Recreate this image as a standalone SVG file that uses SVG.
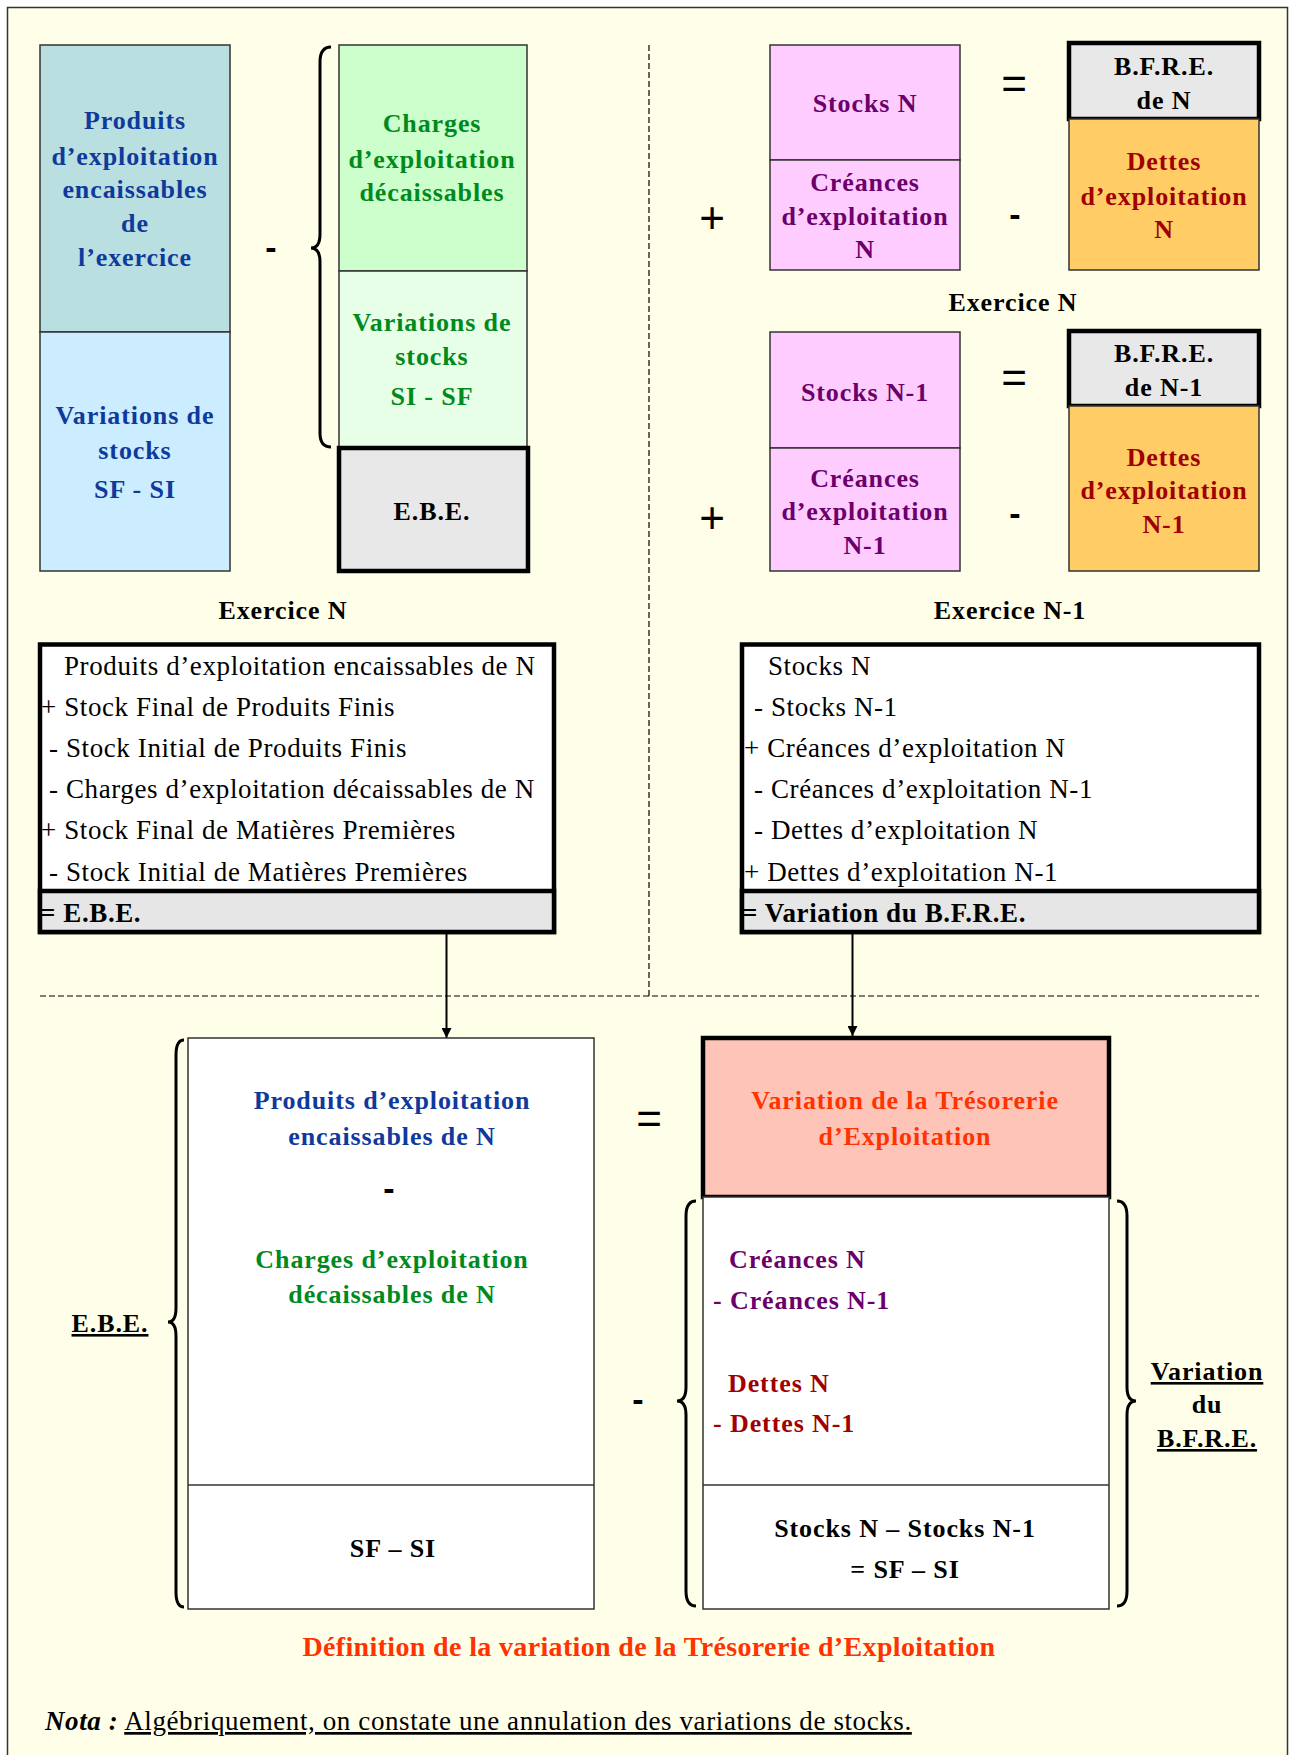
<svg xmlns="http://www.w3.org/2000/svg" width="1289" height="1755" viewBox="0 0 1289 1755">
<defs>
<marker id="arr" viewBox="0 0 10 10" refX="10" refY="5" markerWidth="5" markerHeight="5" orient="auto" markerUnits="strokeWidth"><path d="M0,0 L10,5 L0,10 z" fill="#000"/></marker>
<style>
.b{font-family:"Liberation Serif","Times New Roman",serif;font-weight:bold;font-size:26px;letter-spacing:0.9px;text-anchor:middle}
.r{font-family:"Liberation Serif","Times New Roman",serif;font-size:27px;letter-spacing:0.6px}
.rb{font-family:"Liberation Serif","Times New Roman",serif;font-size:27px;font-weight:bold;letter-spacing:0.6px}
.op{font-family:"Liberation Sans",Arial,sans-serif;font-size:44px;text-anchor:middle}
.mi{font-family:"Liberation Sans",Arial,sans-serif;font-size:34px;font-weight:bold;text-anchor:middle}
.thin{stroke:#333;stroke-width:1.5}
.thick{stroke:#000;stroke-width:4.5}
.brace{fill:none;stroke:#000;stroke-width:3}
.blue{fill:#0F3A9C}.green{fill:#008A1E}.purple{fill:#6B006B}.dred{fill:#A00000}.red{fill:#FF3300}.blk{fill:#000}
.dash{stroke:#000;stroke-width:1.2;stroke-dasharray:6 3;fill:none}
</style>
</defs>
<rect width="1289" height="1755" fill="#fff"/>
<rect x="7.5" y="7.5" width="1280" height="1770" fill="#FFFFE9" stroke="#333" stroke-width="1.5"/>

<g id="separators">
<path class="dash" d="M649,45 V996 M40,996 H1259"/>
</g>

<g id="produits">
<rect x="40" y="45" width="190" height="287" fill="#BADFE1" class="thin"/>
<rect x="40" y="332" width="190" height="239" fill="#CCECFF" class="thin"/>
<text class="b blue" x="135"><tspan x="135" y="129">Produits</tspan><tspan x="135" y="165">d’exploitation</tspan><tspan x="135" y="198">encaissables</tspan><tspan x="135" y="232">de</tspan><tspan x="135" y="266">l’exercice</tspan></text>
<text class="b blue"><tspan x="135" y="424">Variations de</tspan><tspan x="135" y="459">stocks</tspan><tspan x="135" y="498">SF - SI</tspan></text>
</g>

<text class="mi" x="271" y="259">-</text>
<path class="brace" d="M331,47 Q320,47 320,62 L320,234 Q320,248 311,248 Q320,248 320,262 L320,433 Q320,447 331,447"/>

<g id="charges">
<rect x="339" y="45" width="188" height="226" fill="#CCFFCC" class="thin"/>
<rect x="339" y="271" width="188" height="177" fill="#E6FFE6" class="thin"/>
<text class="b green"><tspan x="432" y="132">Charges</tspan><tspan x="432" y="168">d’exploitation</tspan><tspan x="432" y="201">décaissables</tspan></text>
<text class="b green"><tspan x="432" y="331">Variations de</tspan><tspan x="432" y="365">stocks</tspan><tspan x="432" y="405">SI - SF</tspan></text>
</g>
<g id="ebe">
<rect x="339" y="448" width="189" height="123" fill="#E8E8E8" class="thick"/>
<text class="b blk" x="432" y="520">E.B.E.</text>
</g>
<text class="b blk" x="283" y="619">Exercice N</text>

<g id="actif-n">
<rect x="770" y="45" width="190" height="115" fill="#FFCCFF" class="thin"/>
<rect x="770" y="160" width="190" height="110" fill="#FFCCFF" class="thin"/>
<text class="b purple" x="865" y="112">Stocks N</text>
<text class="b purple"><tspan x="865" y="191">Créances</tspan><tspan x="865" y="225">d’exploitation</tspan><tspan x="865" y="258">N</tspan></text>
</g>
<g id="bfre-n">
<rect x="1069" y="43" width="190" height="76" fill="#E8E8E8" class="thick"/>
<text class="b blk"><tspan x="1164" y="75">B.F.R.E.</tspan><tspan x="1164" y="109">de N</tspan></text>
<rect x="1069" y="119" width="190" height="151" fill="#FFCC66" class="thin"/>
<text class="b dred"><tspan x="1164" y="170">Dettes</tspan><tspan x="1164" y="205">d’exploitation</tspan><tspan x="1164" y="238">N</tspan></text>
</g>
<text class="op" x="1014" y="99">=</text>
<text class="op" x="712" y="233">+</text>
<text class="mi" x="1015" y="226">-</text>
<text class="b blk" x="1013" y="311">Exercice N</text>

<g id="actif-n1">
<rect x="770" y="332" width="190" height="116" fill="#FFCCFF" class="thin"/>
<rect x="770" y="448" width="190" height="123" fill="#FFCCFF" class="thin"/>
<text class="b purple" x="865" y="401">Stocks N-1</text>
<text class="b purple"><tspan x="865" y="487">Créances</tspan><tspan x="865" y="520">d’exploitation</tspan><tspan x="865" y="554">N-1</tspan></text>
</g>
<g id="bfre-n1">
<rect x="1069" y="331" width="190" height="75" fill="#E8E8E8" class="thick"/>
<text class="b blk"><tspan x="1164" y="362">B.F.R.E.</tspan><tspan x="1164" y="396">de N-1</tspan></text>
<rect x="1069" y="406" width="190" height="165" fill="#FFCC66" class="thin"/>
<text class="b dred"><tspan x="1164" y="466">Dettes</tspan><tspan x="1164" y="499">d’exploitation</tspan><tspan x="1164" y="533">N-1</tspan></text>
</g>
<text class="op" x="1014" y="393">=</text>
<text class="op" x="712" y="533">+</text>
<text class="mi" x="1015" y="525">-</text>
<text class="b blk" x="1010" y="619">Exercice N-1</text>

<g id="calcul-ebe">
<rect x="40" y="644.5" width="514" height="287.5" fill="#fff" class="thick"/>
<rect x="40" y="891" width="514" height="41" fill="#E6E6E6" class="thick"/>
<text class="r blk" x="64" y="675">Produits d’exploitation encaissables de N</text>
<text class="r blk" x="41" y="716">+ Stock Final de Produits Finis</text>
<text class="r blk" x="49" y="757">- Stock Initial de Produits Finis</text>
<text class="r blk" x="49" y="798">- Charges d’exploitation décaissables de N</text>
<text class="r blk" x="41" y="839">+ Stock Final de Matières Premières</text>
<text class="r blk" x="49" y="881">- Stock Initial de Matières Premières</text>
<text class="rb blk" x="40" y="922">= E.B.E.</text>
</g>

<g id="calcul-bfre">
<rect x="742" y="644.5" width="517" height="287.5" fill="#fff" class="thick"/>
<rect x="742" y="891" width="517" height="41" fill="#E6E6E6" class="thick"/>
<text class="r blk" x="768" y="675">Stocks N</text>
<text class="r blk" x="754" y="716">- Stocks N-1</text>
<text class="r blk" x="744" y="757">+ Créances d’exploitation N</text>
<text class="r blk" x="754" y="798">- Créances d’exploitation N-1</text>
<text class="r blk" x="754" y="839">- Dettes d’exploitation N</text>
<text class="r blk" x="744" y="881">+ Dettes d’exploitation N-1</text>
<text class="rb blk" x="742" y="922">= Variation du B.F.R.E.</text>
</g>

<g id="connectors">
<line x1="446.5" y1="932" x2="446.5" y2="1038" stroke="#000" stroke-width="2" marker-end="url(#arr)"/>
<line x1="852.5" y1="932" x2="852.5" y2="1036" stroke="#000" stroke-width="2" marker-end="url(#arr)"/>
</g>

<g id="ebe-detail">
<rect x="188" y="1038" width="406" height="571" fill="#fff" class="thin"/>
<line x1="188" y1="1485" x2="594" y2="1485" class="thin"/>
<text class="b blue"><tspan x="392" y="1109">Produits d’exploitation</tspan><tspan x="392" y="1145">encaissables de N</tspan></text>
<text class="mi" x="389" y="1200">-</text>
<text class="b green"><tspan x="392" y="1268">Charges d’exploitation</tspan><tspan x="392" y="1303">décaissables de N</tspan></text>
<text class="b blk" x="393" y="1557">SF – SI</text>
</g>
<path class="brace" d="M184,1040 Q176,1040 176,1055 L176,1308 Q176,1322 168,1322 Q176,1322 176,1336 L176,1592 Q176,1607 184,1607"/>
<text class="b blk" x="110" y="1332" text-decoration="underline">E.B.E.</text>

<text class="op" x="649" y="1134">=</text>
<text class="mi" x="638" y="1411">-</text>

<g id="tresorerie">
<rect x="703" y="1038" width="406" height="159" fill="#FFC4B8" class="thick"/>
<text class="b red"><tspan x="905" y="1109">Variation de la Trésorerie</tspan><tspan x="905" y="1145">d’Exploitation</tspan></text>
</g>
<g id="bfre-detail">
<rect x="703" y="1197" width="406" height="412" fill="#fff" class="thin"/>
<line x1="703" y1="1485" x2="1109" y2="1485" class="thin"/>
<text class="b purple" style="text-anchor:start" x="729" y="1268">Créances N</text>
<text class="b purple" style="text-anchor:start" x="713" y="1309">- Créances N-1</text>
<text class="b dred" style="text-anchor:start" x="728" y="1392">Dettes N</text>
<text class="b dred" style="text-anchor:start" x="713" y="1432">- Dettes N-1</text>
<text class="b blk"><tspan x="905" y="1537">Stocks N – Stocks N-1</tspan><tspan x="905" y="1578">= SF – SI</tspan></text>
</g>
<path class="brace" d="M696,1201 Q686,1201 686,1216 L686,1387 Q686,1401 677,1401 Q686,1401 686,1415 L686,1591 Q686,1606 696,1606"/>
<path class="brace" d="M1117,1201 Q1127,1201 1127,1216 L1127,1387 Q1127,1401 1136,1401 Q1127,1401 1127,1415 L1127,1591 Q1127,1606 1117,1606"/>
<text class="b blk"><tspan x="1207" y="1380" text-decoration="underline">Variation</tspan><tspan x="1207" y="1413">du</tspan><tspan x="1207" y="1447" text-decoration="underline">B.F.R.E.</tspan></text>

<text class="b red" x="649" y="1656" style="font-size:28px;letter-spacing:0.35px">Définition de la variation de la Trésorerie d’Exploitation</text>
<text class="r blk" x="45" y="1730"><tspan font-weight="bold" font-style="italic">Nota :</tspan> <tspan text-decoration="underline">Algébriquement, on constate une annulation des variations de stocks.</tspan></text>
</svg>
